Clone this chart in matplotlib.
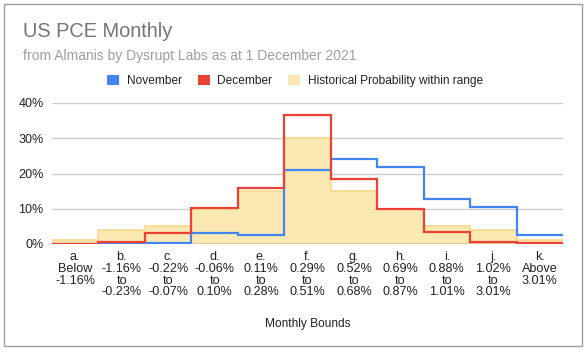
import matplotlib

matplotlib.use("Agg")
import matplotlib.pyplot as plt
import numpy as np
from matplotlib.patches import Patch, Rectangle

plt.rcParams["font.family"] = ["Liberation Sans", "DejaVu Sans"]

# bucket labels (one per monthly range)
bounds = [
    "a.\nBelow\n-1.16%",
    "b.\n-1.16%\nto\n-0.23%",
    "c.\n-0.22%\nto\n-0.07%",
    "d.\n-0.06%\nto\n0.10%",
    "e.\n0.11%\nto\n0.28%",
    "f.\n0.29%\nto\n0.51%",
    "g.\n0.52%\nto\n0.68%",
    "h.\n0.69%\nto\n0.87%",
    "i.\n0.88%\nto\n1.01%",
    "j.\n1.02%\nto\n3.01%",
    "k.\nAbove\n3.01%",
]
# probabilities in %
november = [0.0, 0.2, 0.3, 3.1, 2.6, 21.0, 24.2, 21.9, 12.9, 10.6, 2.6]
december = [0.1, 0.6, 3.1, 10.3, 16.0, 36.7, 18.3, 9.9, 3.4, 0.7, 0.2]
historical = [1.0, 3.9, 5.0, 10.0, 15.1, 30.1, 14.9, 9.9, 5.0, 4.0, 1.0]

BLUE = "#4285f4"
RED = "#ea4335"
YELLOW = "#fce8b2"
YELLOW_EDGE = "#f7d98a"

W, H = 586, 353
fig = plt.figure(figsize=(W / 100, H / 100), dpi=100)
ax = fig.add_axes([52 / W, 1 - 244 / H, 511 / W, 141 / H])

edges = np.arange(len(bounds) + 1)
ax.stairs(historical, edges, fill=True, color=YELLOW, zorder=1)
ax.stairs(historical, edges, baseline=None, color=YELLOW_EDGE, lw=1.2, zorder=1.5)
ax.axhline(0, color="#6b5a20", lw=1, zorder=2)
ax.stairs(november, edges, baseline=None, color=BLUE, lw=1.6, zorder=3)
ax.stairs(december, edges, baseline=None, color=RED, lw=1.6, zorder=4)

ax.set_xlim(0, len(bounds))
ax.set_ylim(0, 40)
ax.set_yticks([0, 10, 20, 30, 40])
ax.set_yticklabels([f"{v}%" for v in [0, 10, 20, 30, 40]])
ax.yaxis.grid(True, color="#cccccc", lw=1)
ax.set_axisbelow(True)
ax.set_xticks(edges[:-1] + 0.5)
ax.set_xticklabels(bounds, linespacing=0.98)
ax.tick_params(axis="both", length=0, colors="#222222", labelsize=9.1)
ax.tick_params(axis="x", pad=5)
ax.tick_params(axis="y", pad=6)
for s in ax.spines.values():
    s.set_visible(False)
ax.set_xlabel("Monthly Bounds", fontsize=8.6, color="#222222", labelpad=14)

fig.text(23 / W, 1 - 37 / H, "US PCE Monthly", fontsize=14.4, color="#757575", va="baseline")
fig.text(23 / W, 1 - 60 / H, "from Almanis by Dysrupt Labs as at 1 December 2021",
         fontsize=10, color="#9e9e9e", va="baseline")

handles = [
    Patch(facecolor=BLUE, edgecolor="none"),
    Patch(facecolor=RED, edgecolor="none"),
    Patch(facecolor=YELLOW, edgecolor="none"),
]
fig.legend(handles, ["November", "December", "Historical Probability within range"],
           loc="center", bbox_to_anchor=(295 / W, 1 - 81 / H), ncol=3, frameon=False,
           fontsize=8.6, handlelength=1.0, handleheight=1.0, handletextpad=0.65,
           columnspacing=1.3, labelcolor="#222222")

fig.patches.append(Rectangle((4 / W, 1 - 346 / H), 578 / W, 342 / H, transform=fig.transFigure,
                             fill=False, edgecolor="#9e9e9e", lw=1))

fig.savefig("out.png", dpi=100)
